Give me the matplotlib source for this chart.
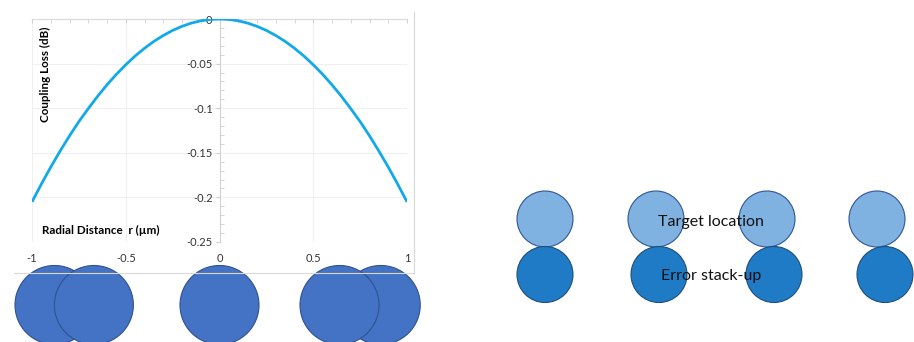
import matplotlib.pyplot as plt
from matplotlib.patches import Circle
from matplotlib.lines import Line2D

# coupling loss curve (r in um, loss in dB)
radius_um = [-1.0, -0.95, -0.9, -0.85, -0.8, -0.75, -0.7, -0.65, -0.6, -0.55, -0.5,
             -0.45, -0.4, -0.35, -0.3, -0.25, -0.2, -0.15, -0.1, -0.05, 0.0,
             0.05, 0.1, 0.15, 0.2, 0.25, 0.3, 0.35, 0.4, 0.45, 0.5,
             0.55, 0.6, 0.65, 0.7, 0.75, 0.8, 0.85, 0.9, 0.95, 1.0]
loss_db = [-0.205, -0.185, -0.166, -0.148, -0.131, -0.115, -0.1005, -0.0866, -0.0738, -0.062, -0.0513,
           -0.0415, -0.0328, -0.0251, -0.0185, -0.0128, -0.0082, -0.0046, -0.002, -0.0005, 0.0,
           -0.0005, -0.002, -0.0046, -0.0082, -0.0128, -0.0185, -0.0251, -0.0328, -0.0415, -0.0513,
           -0.062, -0.0738, -0.0866, -0.1005, -0.115, -0.131, -0.148, -0.166, -0.185, -0.205]

x_ticks = [-1, -0.5, 0, 0.5, 1]
x_tick_labels = ['-1', '-0.5', '0', '0.5', '1']
y_ticks = [0, -0.05, -0.1, -0.15, -0.2, -0.25]
y_tick_labels = ['0', '-0.05', '-0.1', '-0.15', '-0.2', '-0.25']

# fiber positions under the chart, in r units (drawn back to front)
fiber_r = [-0.88, -0.67, 0.0, 0.86, 0.64]

# right-hand sketch: target vs error positions (figure pixels)
target_x = [545, 656, 767, 877]
error_x = [545, 659, 774, 885]

W, H = 914, 342
fig = plt.figure(figsize=(W / 100, H / 100), dpi=100)
plt.rcParams['font.family'] = ['Lato', 'DejaVu Sans']

# chart plot area in pixels
left, right, top, bottom = 32, 407, 19, 242
ax = fig.add_axes([left / W, 1 - bottom / H, (right - left) / W, (bottom - top) / H])
ax.set_xlim(-1, 1)
ax.set_ylim(-0.25, 0)

for y in y_ticks[1:]:
    ax.axhline(y, color='#f0f0f0', lw=0.8, zorder=0)
for x in [-1, -0.5, 0.5, 1]:
    ax.axvline(x, color='#f0f0f0', lw=0.8, zorder=0)

ax.plot(radius_um, loss_db, color='#12a9ea', lw=2, zorder=3, solid_capstyle='butt')

for s in ['right', 'bottom']:
    ax.spines[s].set_visible(False)
ax.spines['left'].set_position(('data', 0))
ax.spines['left'].set_color('#d0d0d0')
ax.spines['top'].set_color('#d9d9d9')

ax.set_xticks(x_ticks)
ax.set_xticklabels(x_tick_labels)
ax.set_xticks([v / 10 for v in range(-10, 11)], minor=True)
ax.tick_params(axis='x', which='both', top=True, bottom=False, labeltop=False,
               labelbottom=True, direction='in', color='#d0d0d0', length=3,
               labelsize=8, pad=8, labelcolor='#333333')
ax.set_yticks(y_ticks)
ax.set_yticklabels(y_tick_labels)
ax.set_yticks([-v / 100 for v in range(0, 26)], minor=True)
ax.tick_params(axis='y', which='major', direction='out', length=3, color='#d0d0d0',
               labelsize=8, labelcolor='#333333', pad=2)
ax.tick_params(axis='y', which='minor', direction='in', length=3, color='#d0d0d0')
ax.patch.set_alpha(0)

ax.text(0.035, 0.75, 'Coupling Loss (dB)', transform=ax.transAxes, rotation=90,
        ha='center', va='center', fontsize=8.4, fontweight='bold')
ax.text(0.027, 0.05, 'Radial Distance  r (\u00b5m)', transform=ax.transAxes,
        ha='left', va='center', fontsize=8.4, fontweight='bold')

# overlay in figure pixels
ov = fig.add_axes([0, 0, 1, 1])
ov.set_xlim(0, W)
ov.set_ylim(H, 0)
ov.axis('off')
ov.patch.set_alpha(0)

ov.add_line(Line2D([14, 414], [273, 273], color='#d9d9d9', lw=0.8))
ov.add_line(Line2D([414, 414], [12, 273], color='#d9d9d9', lw=0.8))

px_per_r = (right - left) / 2
x0 = (left + right) / 2
for r in fiber_r:
    ov.add_patch(Circle((x0 + r * px_per_r, 305), 39.5, facecolor='#4472c4',
                        edgecolor='#2f528f', lw=0.8))

for x in target_x:
    ov.add_patch(Circle((x, 219), 28, facecolor='#7fb2e0', edgecolor='#2f5597', lw=0.8))
for x in error_x:
    ov.add_patch(Circle((x, 274.5), 28, facecolor='#1f7bc6', edgecolor='#1f4e79', lw=0.8))

ov.text(711, 222, 'Target location', ha='center', va='center', fontsize=11.5, color='#111111')
ov.text(711, 276, 'Error stack-up', ha='center', va='center', fontsize=11.5, color='#111111')

fig.savefig('out.png', dpi=100, facecolor='white')
